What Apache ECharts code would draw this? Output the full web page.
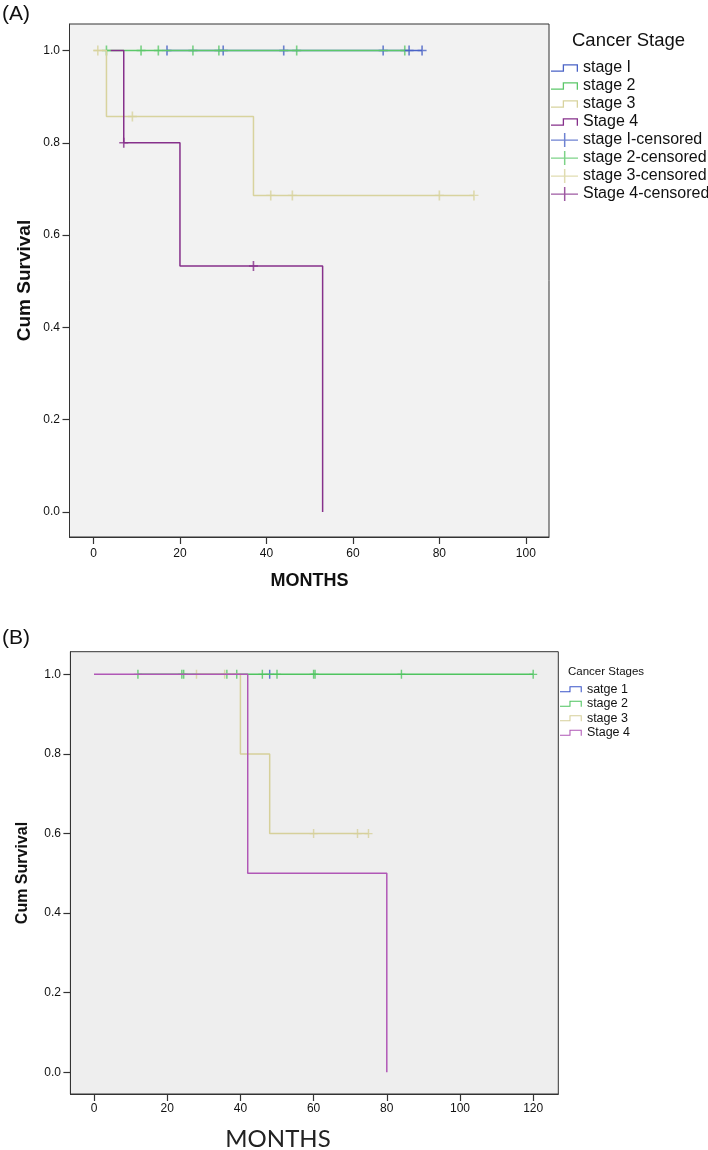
<!DOCTYPE html>
<html>
<head>
<meta charset="utf-8">
<script src="https://cdn.jsdelivr.net/npm/echarts@6/dist/echarts.min.js"></script>
<style>
html,body{margin:0;padding:0;background:#fff;}
#a{width:708px;height:600px;}
#b{width:708px;height:550px;}
</style>
</head>
<body>
<div id="a"></div>
<div id="b"></div>
<script>
// ---------- Panel A data ----------
const A_xTicks = [0, 20, 40, 60, 80, 100];
const A_yTicks = [0, 0.2, 0.4, 0.6, 0.8, 1.0];
const A_names = ['stage I', 'stage 2', 'stage 3', 'Stage 4'];
const A_censorNames = ['stage I-censored', 'stage 2-censored', 'stage 3-censored', 'Stage 4-censored'];
// step curves: times where survival changes (plus first and last time)
const A_s1_time = [17, 76];
const A_s1_surv = [1.0, 1.0];
const A_s2_time = [3, 72];
const A_s2_surv = [1.0, 1.0];
const A_s3_time = [0, 3, 37, 88];
const A_s3_surv = [1.0, 0.857, 0.686, 0.686];
const A_s4_time = [4, 7, 20, 53];
const A_s4_surv = [1.0, 0.8, 0.533, 0.0];
// censored observations
const A_c1_time = [17, 30, 44, 67, 73, 76];
const A_c1_surv = [1, 1, 1, 1, 1, 1];
const A_c2_time = [3, 11, 15, 23, 29, 47, 72];
const A_c2_surv = [1, 1, 1, 1, 1, 1, 1];
const A_c3_time = [1, 9, 41, 46, 80, 88];
const A_c3_surv = [1, 0.857, 0.686, 0.686, 0.686, 0.686];
const A_c4_time = [7, 37];
const A_c4_surv = [0.8, 0.533];

// ---------- Panel B data ----------
const B_xTicks = [0, 20, 40, 60, 80, 100, 120];
const B_yTicks = [0, 0.2, 0.4, 0.6, 0.8, 1.0];
const B_names = ['satge 1', 'stage 2', 'stage 3', 'Stage 4'];
const B_s1_time = [48];
const B_s1_surv = [1.0];
const B_s2_time = [12, 120];
const B_s2_surv = [1.0, 1.0];
const B_s3_time = [28, 40, 48, 75];
const B_s3_surv = [1.0, 0.8, 0.6, 0.6];
const B_s4_time = [0, 42, 80];
const B_s4_surv = [1.0, 0.5, 0.0];
const B_c1_time = [48];
const B_c1_surv = [1];
const B_c2_time = [12, 24, 24.5, 36.3, 39, 46, 50, 60, 60.4, 84, 120];
const B_c2_surv = [1, 1, 1, 1, 1, 1, 1, 1, 1, 1, 1];
const B_c3_time = [28, 35.7, 60, 72, 75];
const B_c3_surv = [1, 1, 0.6, 0.6, 0.6];

// ---------- styles ----------
const FONT = '"Liberation Sans", Arial, sans-serif';
const A_colors = ['#4a63c6', '#5cc86a', '#d8d39e', '#86308b'];
const B_colors = ['#3b55c9', '#4ec45f', '#d6d09a', '#b057b6'];
const STEP_ICON = 'path://M0,6.6H12.6V0H29V8H27.6V1.4H14V8H0Z';
const CENSOR_ICON = 'path://M0,6.9H13.9V0H15.5V6.9H29V8.2H15.5V15H13.9V8.2H0Z';
const PLUS = 'path://M0,4.3H4.1V0H5.9V4.3H10V5.7H5.9V10H4.1V5.7H0Z';

function pairs(t, s) { return t.map((v, i) => [v, s[i]]); }

function stepSeries(name, t, s, color) {
  return {
    type: 'line', name: name, data: pairs(t, s), step: 'end',
    symbol: 'none', color: color, itemStyle: {color: color},
    lineStyle: {color: color, width: 1.5}, silent: true, animation: false
  };
}
function censorSeries(name, t, s, color, size) {
  return {
    type: 'scatter', name: name, data: pairs(t, s), symbol: PLUS,
    symbolSize: size, color: color, itemStyle: {color: color},
    silent: true, animation: false
  };
}
function axes(xMin, xMax, xTicks, yMin, yMax, yTicks, xMargin, yMargin) {
  const lab = {fontFamily: FONT, fontSize: 12, color: '#111'};
  return {
    xAxis: {
      type: 'value', min: xMin, max: xMax,
      axisLine: {show: true, onZero: false, lineStyle: {color: '#333', width: 1}},
      axisTick: {show: true, length: 7, customValues: xTicks, lineStyle: {color: '#333', width: 1.2}},
      axisLabel: Object.assign({customValues: xTicks, margin: xMargin}, lab),
      splitLine: {show: false}
    },
    yAxis: {
      type: 'value', min: yMin, max: yMax,
      axisLine: {show: true, onZero: false, lineStyle: {color: '#333', width: 1}},
      axisTick: {show: true, length: 7, customValues: yTicks, lineStyle: {color: '#333', width: 1.2}},
      axisLabel: Object.assign({customValues: yTicks, margin: yMargin, formatter: v => v.toFixed(1)}, lab),
      splitLine: {show: false}
    }
  };
}

// ---------- Chart A ----------
const chartA = echarts.init(document.getElementById('a'), null, {renderer: 'canvas'});
const axA = axes(-5.55, 105.36, A_xTicks, -0.0542, 1.0574, A_yTicks, 11, 9.5);
chartA.setOption({
  animation: false,
  backgroundColor: '#ffffff',
  grid: {left: 69.5, top: 24, width: 479.5, height: 513, show: true,
         backgroundColor: '#f2f2f2', borderColor: '#333', borderWidth: 1},
  xAxis: axA.xAxis,
  yAxis: axA.yAxis,
  legend: [
    {orient: 'vertical', left: 551, top: 59, padding: 0, itemGap: 0,
     itemWidth: 27, itemHeight: 8, selectedMode: false,
     textStyle: {fontFamily: FONT, fontSize: 16, lineHeight: 18, color: '#111'},
     data: A_names.map(n => ({name: n, icon: STEP_ICON}))},
    {orient: 'vertical', left: 551, top: 131, padding: 0, itemGap: 0,
     itemWidth: 27, itemHeight: 15, selectedMode: false,
     textStyle: {fontFamily: FONT, fontSize: 16, lineHeight: 18, color: '#111'},
     data: A_censorNames.map(n => ({name: n, icon: CENSOR_ICON}))}
  ],
  graphic: [
    {type: 'text', left: 2, top: 4, style: {text: '(A)', font: '21px ' + FONT, fill: '#111'}},
    {type: 'text', x: 572, y: 41, style: {text: 'Cancer Stage', font: '18.5px ' + FONT, fill: '#111', verticalAlign: 'middle'}},
    {type: 'text', x: 24.5, y: 280.5, rotation: Math.PI / 2,
     style: {text: 'Cum Survival', font: 'bold 19px ' + FONT, fill: '#111', align: 'center', verticalAlign: 'middle'}},
    {type: 'text', x: 309.5, y: 581, style: {text: 'MONTHS', font: 'bold 18px ' + FONT, fill: '#111', align: 'center', verticalAlign: 'middle'}}
  ],
  series: [
    stepSeries(A_names[0], A_s1_time, A_s1_surv, A_colors[0]),
    stepSeries(A_names[1], A_s2_time, A_s2_surv, A_colors[1]),
    stepSeries(A_names[2], A_s3_time, A_s3_surv, A_colors[2]),
    stepSeries(A_names[3], A_s4_time, A_s4_surv, A_colors[3]),
    censorSeries(A_censorNames[0], A_c1_time, A_c1_surv, A_colors[0], [9, 10]),
    censorSeries(A_censorNames[1], A_c2_time, A_c2_surv, A_colors[1], [9, 10]),
    censorSeries(A_censorNames[2], A_c3_time, A_c3_surv, A_colors[2], [9, 10]),
    censorSeries(A_censorNames[3], A_c4_time, A_c4_surv, A_colors[3], [9, 10])
  ]
});

// ---------- Chart B ----------
const chartB = echarts.init(document.getElementById('b'), null, {renderer: 'canvas'});
const axB = axes(-6.45, 126.86, B_xTicks, -0.0545, 1.0568, B_yTicks, 9, 9.5);
chartB.setOption({
  animation: false,
  backgroundColor: '#ffffff',
  grid: {left: 70.4, top: 51.7, width: 487.9, height: 442.3, show: true,
         backgroundColor: '#eeeeee', borderColor: '#333', borderWidth: 1},
  xAxis: axB.xAxis,
  yAxis: axB.yAxis,
  legend: {orient: 'vertical', left: 560, top: 82, padding: 0, itemGap: 0,
           itemWidth: 22, itemHeight: 6, selectedMode: false,
           textStyle: {fontFamily: FONT, fontSize: 12.5, lineHeight: 14.5, color: '#111'},
           data: B_names.map(n => ({name: n, icon: STEP_ICON}))},
  graphic: [
    {type: 'text', left: 2, top: 28, style: {text: '(B)', font: '21px ' + FONT, fill: '#111'}},
    {type: 'text', x: 568, y: 71.7, style: {text: 'Cancer Stages', font: '11.5px ' + FONT, fill: '#111', verticalAlign: 'middle'}},
    {type: 'text', x: 23, y: 273, rotation: Math.PI / 2,
     style: {text: 'Cum Survival', font: 'bold 16px ' + FONT, fill: '#111', align: 'center', verticalAlign: 'middle'}},
    {type: 'text', x: 278, y: 539, style: {text: 'MONTHS', font: '24px Lato, "Open Sans", sans-serif', fill: '#222', align: 'center', verticalAlign: 'middle'}}
  ],
  series: [
    stepSeries(B_names[0], B_s1_time, B_s1_surv, B_colors[0]),
    stepSeries(B_names[1], B_s2_time, B_s2_surv, B_colors[1]),
    stepSeries(B_names[2], B_s3_time, B_s3_surv, B_colors[2]),
    stepSeries(B_names[3], B_s4_time, B_s4_surv, B_colors[3]),
    censorSeries('satge 1-censored', B_c1_time, B_c1_surv, B_colors[0], [8, 9]),
    censorSeries('stage 2-censored', B_c2_time, B_c2_surv, B_colors[1], [8, 9]),
    censorSeries('stage 3-censored', B_c3_time, B_c3_surv, B_colors[2], [8, 9])
  ]
});
</script>
</body>
</html>
